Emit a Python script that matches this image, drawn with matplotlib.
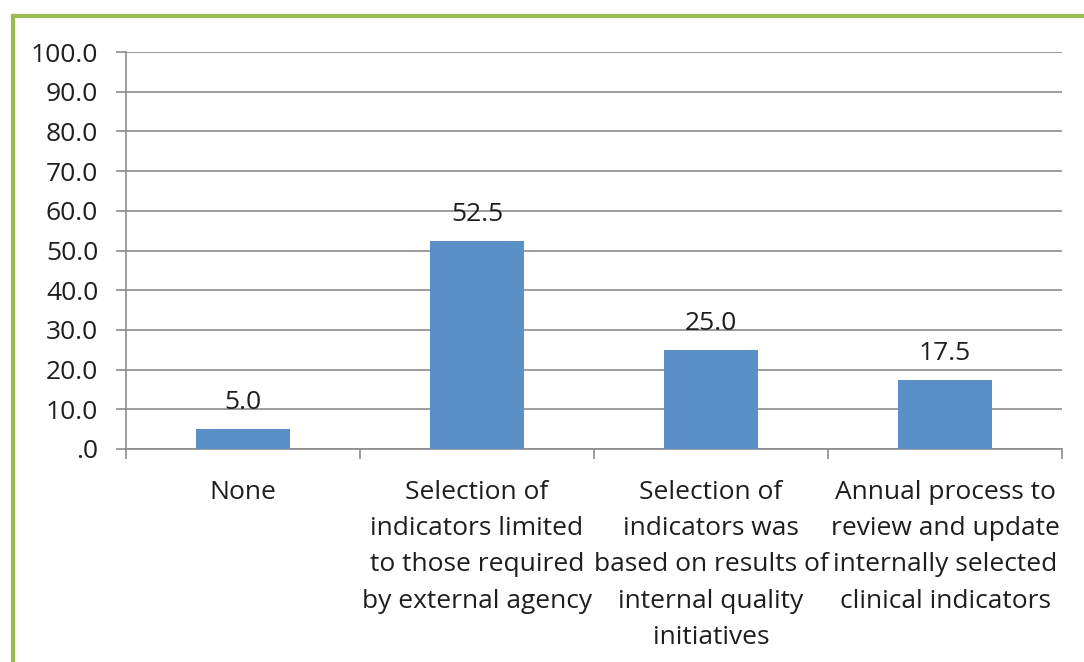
import matplotlib
matplotlib.use("Agg")
import matplotlib.pyplot as plt
from matplotlib.lines import Line2D

plt.rcParams['font.family'] = ['Open Sans', 'DejaVu Sans']

categories = [
    "None",
    "Selection of\nindicators limited\nto those required\nby external agency",
    "Selection of\nindicators was\nbased on results of\ninternal quality\ninitiatives",
    "Annual process to\nreview and update\ninternally selected\nclinical indicators",
]
values = [5.0, 52.5, 25.0, 17.5]
y_ticks = [0, 10, 20, 30, 40, 50, 60, 70, 80, 90, 100]
y_tick_labels = [".0", "10.0", "20.0", "30.0", "40.0", "50.0", "60.0", "70.0", "80.0", "90.0", "100.0"]

BAR_COLOR = "#5b8fc7"
GRID_COLOR = "#8c8c8c"
TEXT_COLOR = "#1e1e1e"
FS = 19

fig = plt.figure(figsize=(10.84, 6.62), dpi=100)
ax = fig.add_axes([126 / 1084, 1 - 449 / 662, (1062 - 126) / 1084, (449 - 52) / 662])

xs = list(range(len(values)))
bars = ax.bar(xs, values, width=0.4, color=BAR_COLOR, zorder=3)
for x, v in zip(xs, values):
    ax.annotate(f"{v:.1f}", (x, v), xytext=(0, 10), textcoords="offset points",
                ha="center", va="bottom", fontsize=FS, color=TEXT_COLOR)

ax.set_xlim(-0.5, len(values) - 0.5)
ax.set_ylim(0, 100)
ax.set_yticks(y_ticks)
ax.set_yticklabels(y_tick_labels, fontsize=FS, color=TEXT_COLOR)
ax.yaxis.grid(True, color=GRID_COLOR, linewidth=1.2, zorder=0)
ax.tick_params(axis="y", length=7, width=1.2, color=GRID_COLOR, pad=13)

# category labels sit between boundary ticks
ax.set_xticks(xs)
ax.set_xticklabels(categories, fontsize=FS, color=TEXT_COLOR, linespacing=1.6)
ax.tick_params(axis="x", length=0, pad=22)
ax.set_xticks([b - 0.5 for b in range(len(values) + 1)], minor=True)
ax.tick_params(axis="x", which="minor", length=7, width=1.2, color=GRID_COLOR)

for side in ["top", "right"]:
    ax.spines[side].set_visible(False)
for side in ["left", "bottom"]:
    ax.spines[side].set_color(GRID_COLOR)
    ax.spines[side].set_linewidth(1.2)

# green frame around the chart area
frame_color = "#9bbb59"
fig.add_artist(Line2D([13 / 1084, 1], [1 - 16 / 662, 1 - 16 / 662], transform=fig.transFigure,
                      color=frame_color, linewidth=3))
fig.add_artist(Line2D([13 / 1084, 13 / 1084], [0, 1 - 16 / 662], transform=fig.transFigure,
                      color=frame_color, linewidth=3))

fig.savefig("out.png", dpi=100)
